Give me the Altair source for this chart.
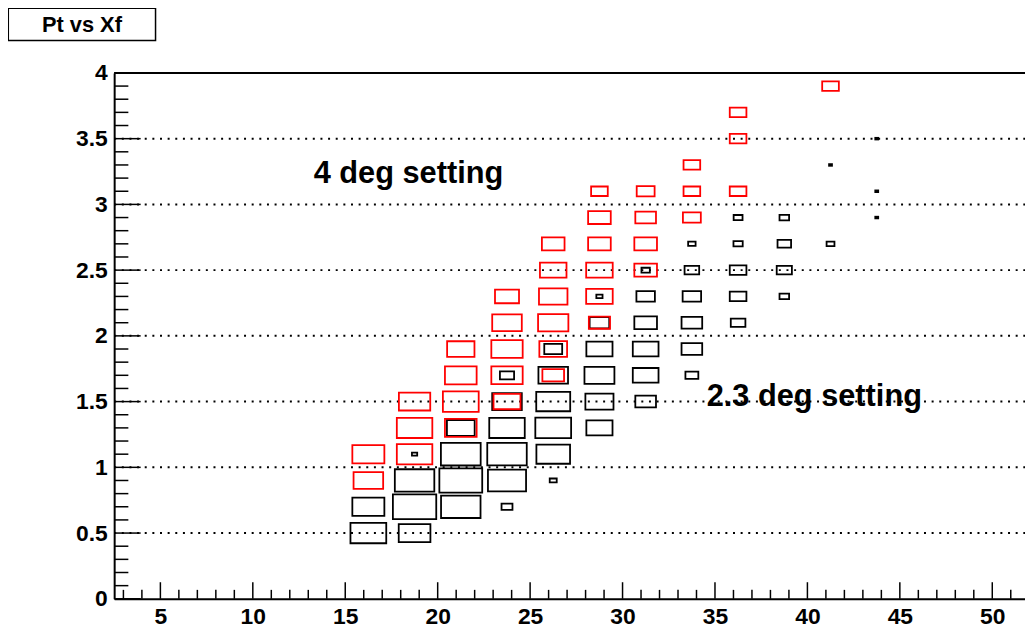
import altair as alt
import pandas as pd

# ---- data -----------------------------------------------------------------
# Xf bin centres (x), Pt bin centres (y) and bin contents (relative units)
red_xf = [16.25, 16.25,
          18.75, 18.75, 18.75,
          21.25, 21.25, 21.25, 21.25,
          23.75, 23.75, 23.75, 23.75, 23.75,
          26.25, 26.25, 26.25, 26.25, 26.25, 26.25,
          28.75, 28.75, 28.75, 28.75, 28.75, 28.75,
          31.25, 31.25, 31.25, 31.25,
          33.75, 33.75, 33.75,
          36.25, 36.25, 36.25,
          41.25]
red_pt = [1.1, 0.9,
          1.5, 1.3, 1.1,
          1.9, 1.7, 1.5, 1.3,
          2.3, 2.1, 1.9, 1.7, 1.5,
          2.7, 2.5, 2.3, 2.1, 1.9, 1.7,
          3.1, 2.9, 2.7, 2.5, 2.3, 2.1,
          3.1, 2.9, 2.7, 2.5,
          3.3, 3.1, 2.9,
          3.7, 3.5, 3.1,
          3.9]
red_z = [48, 41,
         46, 59, 59,
         35, 47, 60, 47,
         27, 41, 46, 46, 34,
         24, 33, 38, 43, 36, 22,
         13, 24, 24, 33, 33, 21,
         15, 20, 24, 24,
         13, 13, 15,
         13, 13, 13,
         13]

black_xf = [16.25, 16.25,
            18.75, 18.75, 18.75, 18.75,
            21.25, 21.25, 21.25, 21.25,
            23.75, 23.75, 23.75, 23.75, 23.75, 23.75,
            26.25, 26.25, 26.25, 26.25, 26.25, 26.25,
            28.75, 28.75, 28.75, 28.75, 28.75, 28.75,
            31.25, 31.25, 31.25, 31.25, 31.25, 31.25,
            33.75, 33.75, 33.75, 33.75, 33.75, 33.75,
            36.25, 36.25, 36.25, 36.25, 36.25,
            38.75, 38.75, 38.75, 38.75,
            41.25, 41.25,
            43.75, 43.75, 43.75]
black_pt = [0.5, 0.7,
            0.5, 0.7, 0.9, 1.1,
            0.7, 0.9, 1.1, 1.3,
            0.7, 0.9, 1.1, 1.3, 1.5, 1.7,
            0.9, 1.1, 1.3, 1.5, 1.7, 1.9,
            1.3, 1.5, 1.7, 1.9, 2.1, 2.3,
            1.5, 1.7, 1.9, 2.1, 2.3, 2.5,
            1.7, 1.9, 2.1, 2.3, 2.5, 2.7,
            2.1, 2.3, 2.5, 2.7, 2.9,
            2.3, 2.5, 2.7, 2.9,
            2.7, 3.3,
            2.9, 3.1, 3.5]
black_z = [60, 48,
           47, 88, 73, 1.3,
           73, 86, 74, 36,
           5.6, 68, 73, 59, 41, 9.4,
           2.3, 53, 60, 54, 41, 15,
           32, 37, 42, 32, 18, 1.8,
           20, 31, 31, 24, 16, 3.3,
           7.8, 20, 20, 16, 10, 2.6,
           10, 13, 13, 4, 3.7,
           4.3, 10.8, 8.6, 4.3,
           2.9, 0.4,
           0.4, 0.4, 0.4]

x_major = [5, 10, 15, 20, 25, 30, 35, 40, 45, 50]
x_minor = [v for v in range(3, 52) if v % 5 != 0]
y_major = [0, 0.5, 1, 1.5, 2, 2.5, 3, 3.5, 4]
y_minor = [round(i / 10, 1) for i in range(1, 40) if i % 5 != 0]
y_grid = [0.5, 1, 1.5, 2, 2.5, 3, 3.5]

notes = ["4 deg setting", "2.3 deg setting"]
notes_x = [13.29, 34.55]
notes_y = [3.162, 1.464]

title_text = "Pt vs Xf"

BIN_W = 2.5      # Xf bin width
BIN_H = 0.2      # Pt bin width
Z_FULL = 100.0   # content that fills a whole bin

W, H = 918, 530
FONT = "Liberation Sans"

xscale = alt.Scale(domain=[2.5, 51.77], nice=False, zero=False)
yscale = alt.Scale(domain=[0, 4], nice=False, zero=False)

ax_x = alt.Axis(
    title=None, values=x_major, format="d", ticks=False, tickSize=0, grid=False,
    labelPadding=7, labelFlush=False, labelOverlap=False,
)
ax_y = alt.Axis(
    title=None, values=y_major, format="~g", ticks=False, tickSize=0, grid=False,
    labelPadding=7, labelFlush=False, labelOverlap=False,
)


def X(field):
    return alt.X(field, scale=xscale, axis=ax_x)


def Y(field):
    return alt.Y(field, scale=yscale, axis=ax_y)


def boxes(xs, ys, zs, colour):
    df = pd.DataFrame({"xf": xs, "pt": ys, "z": zs})
    return (
        alt.Chart(df)
        .transform_calculate(f=f"sqrt(datum.z / {Z_FULL})")
        .transform_calculate(
            x1=f"datum.xf - {BIN_W / 2} * datum.f",
            x2=f"datum.xf + {BIN_W / 2} * datum.f",
            y1=f"datum.pt - {BIN_H / 2} * datum.f",
            y2=f"datum.pt + {BIN_H / 2} * datum.f",
        )
        .mark_rect(filled=False, color=colour, strokeWidth=1.8)
        .encode(x=X("x1:Q"), x2="x2:Q", y=Y("y1:Q"), y2="y2:Q")
    )


grid = (
    alt.Chart(pd.DataFrame({"v": y_grid}))
    .mark_rule(color="black", strokeWidth=2, strokeDash=[2, 5.7])
    .encode(y=Y("v:Q"), x=alt.value(0), x2=alt.value(W))
)

x_major_ticks = (
    alt.Chart(pd.DataFrame({"v": x_major}))
    .mark_rule(color="black", strokeWidth=1.5)
    .encode(x=X("v:Q"), y=alt.value(H), y2=alt.value(H - 16.7))
)
x_minor_ticks = (
    alt.Chart(pd.DataFrame({"v": x_minor}))
    .mark_rule(color="black", strokeWidth=1.5)
    .encode(x=X("v:Q"), y=alt.value(H), y2=alt.value(H - 9))
)

y_major_ticks = (
    alt.Chart(pd.DataFrame({"v": y_major}))
    .mark_rule(color="black", strokeWidth=1.5)
    .encode(y=Y("v:Q"), x=alt.value(0), x2=alt.value(26.7))
)
y_minor_ticks = (
    alt.Chart(pd.DataFrame({"v": y_minor}))
    .mark_rule(color="black", strokeWidth=1.5)
    .encode(y=Y("v:Q"), x=alt.value(0), x2=alt.value(14.3))
)

top_frame = (
    alt.Chart(pd.DataFrame({"v": [4]}))
    .mark_rule(color="black", strokeWidth=2)
    .encode(y=Y("v:Q"), x=alt.value(0), x2=alt.value(W))
)

annot = (
    alt.Chart(pd.DataFrame({"label": notes, "x": notes_x, "y": notes_y}))
    .mark_text(align="left", baseline="alphabetic", font=FONT, fontWeight="bold",
               fontSize=31, color="black")
    .encode(x=X("x:Q"), y=Y("y:Q"), text="label:N")
)

title_df = pd.DataFrame({"t": [title_text]})
title_box = (
    alt.Chart(title_df)
    .mark_rect(fill="white", stroke="black", strokeWidth=1.5)
    .encode(x=alt.value(-106.7), x2=alt.value(41.7), y=alt.value(-65.3), y2=alt.value(-32.7))
)
title_label = (
    alt.Chart(title_df)
    .mark_text(align="center", baseline="alphabetic", font=FONT, fontWeight="bold",
               fontSize=22, color="black")
    .encode(x=alt.value(-32.5), y=alt.value(-41), text="t:N")
)

chart = (
    alt.layer(
        grid,
        boxes(black_xf, black_pt, black_z, "#000000"),
        boxes(red_xf, red_pt, red_z, "#ff0000"),
        x_minor_ticks,
        x_major_ticks,
        y_minor_ticks,
        y_major_ticks,
        top_frame,
        annot,
        title_box,
        title_label,
    )
    .properties(
        width=W,
        height=H,
        padding={"left": 107, "top": 63, "right": 0, "bottom": 28},
        autosize=alt.AutoSizeParams(type="none"),
        background="white",
    )
    .configure_view(strokeWidth=0)
    .configure_axis(
        labelFont=FONT,
        labelFontWeight="bold",
        labelFontSize=23,
        labelColor="black",
        domainColor="black",
        domainWidth=2,
    )
)

chart.save("out.html", embed_options={"renderer": "svg", "actions": False})
